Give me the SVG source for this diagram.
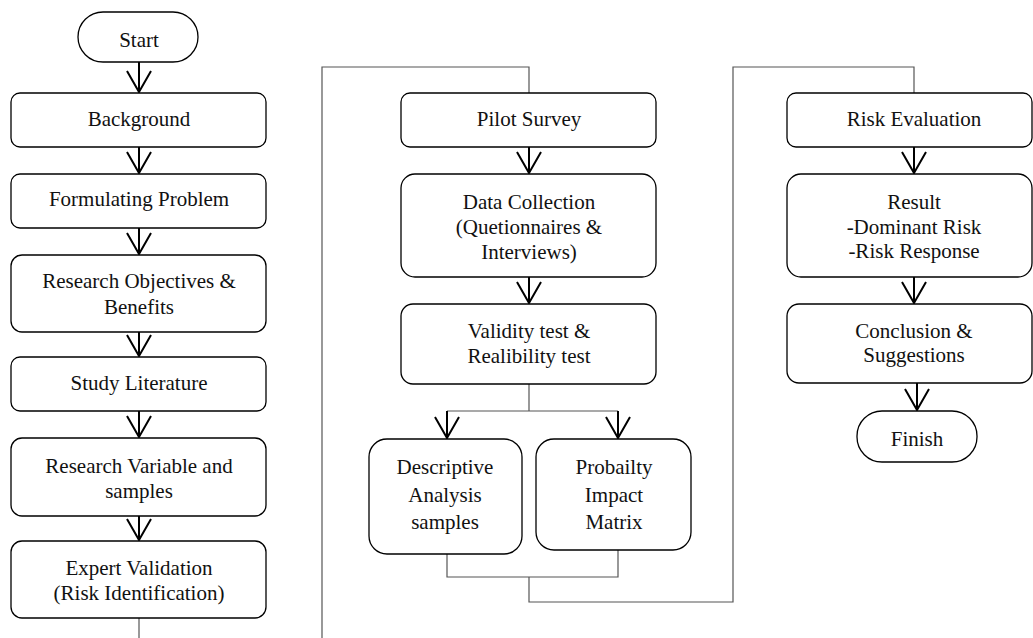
<svg xmlns="http://www.w3.org/2000/svg" width="1033" height="638" viewBox="0 0 1033 638">
<style>
.box{fill:#fff;stroke:#000;stroke-width:1.3}
.t{font-family:"Liberation Serif","Times New Roman",serif;font-size:21px;fill:#111;text-anchor:middle}
.route{fill:none;stroke:#555;stroke-width:1.2}
.stem{fill:none;stroke:#000;stroke-width:2}
.head{fill:none;stroke:#000;stroke-width:2;stroke-linejoin:miter}
</style>
<rect width="1033" height="638" fill="#fff"/>
<g id="connectors">
<!-- route lines -->
<path class="route" d="M139,618 V638"/>
<path class="route" d="M322,638 V67 H529 V93"/>
<path class="route" d="M529,384 V411 M447,411 H618"/>
<path class="route" d="M447,554 V577 H618 V550 M529,577 V602 H733 V67 H914 V93"/>
<!-- arrows column 1 -->
<g id="arrows">
<path class="stem" d="M139,62 V92 M139,147 V173 M139,228 V254 M139,332 V356 M139,411 V437 M139,516 V540"/>
<path class="head" d="M127,71 L139,92 L151,71 M127,152 L139,173 L151,152 M127,233 L139,254 L151,233 M127,335 L139,356 L151,335 M127,416 L139,437 L151,416 M127,519 L139,540 L151,519"/>
<path class="stem" d="M529,147 V173 M529,277 V303 M447,411 V438 M618,411 V438"/>
<path class="head" d="M517,152 L529,173 L541,152 M517,282 L529,303 L541,282 M435,417 L447,438 L459,417 M606,417 L618,438 L630,417"/>
<path class="stem" d="M914,147 V173 M914,277 V303 M917,383 V410"/>
<path class="head" d="M902,152 L914,173 L926,152 M902,282 L914,303 L926,282 M905,389 L917,410 L929,389"/>
</g>
</g>
<g id="start"><rect class="box" x="78" y="12" width="120" height="50" rx="25"/><text class="t" x="139" y="47">Start</text></g>
<g id="background"><rect class="box" x="11" y="93" width="255" height="54" rx="9"/><text class="t" x="139" y="126">Background</text></g>
<g id="formulating"><rect class="box" x="11" y="174" width="255" height="54" rx="9"/><text class="t" x="139" y="206">Formulating Problem</text></g>
<g id="objectives"><rect class="box" x="11" y="255" width="255" height="77" rx="11"/><text class="t" x="139" y="288">Research Objectives &amp;</text><text class="t" x="139" y="314">Benefits</text></g>
<g id="literature"><rect class="box" x="11" y="357" width="255" height="54" rx="9"/><text class="t" x="139" y="390">Study Literature</text></g>
<g id="variable"><rect class="box" x="11" y="438" width="255" height="78" rx="11"/><text class="t" x="139" y="473">Research Variable and</text><text class="t" x="139" y="498">samples</text></g>
<g id="expert"><rect class="box" x="11" y="541" width="255" height="77" rx="11"/><text class="t" x="139" y="575">Expert Validation</text><text class="t" x="139" y="600">(Risk Identification)</text></g>
<g id="pilot"><rect class="box" x="401" y="93" width="255" height="54" rx="9"/><text class="t" x="529" y="126">Pilot Survey</text></g>
<g id="datacollection"><rect class="box" x="401" y="174" width="255" height="103" rx="14"/><text class="t" x="529" y="209">Data Collection</text><text class="t" x="529" y="234">(Quetionnaires &amp;</text><text class="t" x="529" y="259">Interviews)</text></g>
<g id="validity"><rect class="box" x="401" y="304" width="255" height="80" rx="12"/><text class="t" x="529" y="338">Validity test &amp;</text><text class="t" x="529" y="363">Realibility test</text></g>
<g id="descriptive"><rect class="box" x="369" y="439" width="153" height="115" rx="18"/><text class="t" x="445" y="474">Descriptive</text><text class="t" x="445" y="502">Analysis</text><text class="t" x="445" y="529">samples</text></g>
<g id="probability"><rect class="box" x="536" y="439" width="155" height="111" rx="18"/><text class="t" x="614" y="474">Probailty</text><text class="t" x="614" y="502">Impact</text><text class="t" x="614" y="529">Matrix</text></g>
<g id="riskevaluation"><rect class="box" x="787" y="93" width="245" height="54" rx="9"/><text class="t" x="914" y="126">Risk Evaluation</text></g>
<g id="result"><rect class="box" x="787" y="174" width="245" height="103" rx="14"/><text class="t" x="914" y="209">Result</text><text class="t" x="914" y="234">-Dominant Risk</text><text class="t" x="914" y="258">-Risk Response</text></g>
<g id="conclusion"><rect class="box" x="787" y="304" width="245" height="79" rx="12"/><text class="t" x="914" y="338">Conclusion &amp;</text><text class="t" x="914" y="362">Suggestions</text></g>
<g id="finish"><rect class="box" x="857" y="411" width="120" height="51" rx="25"/><text class="t" x="917" y="446">Finish</text></g>
</svg>
